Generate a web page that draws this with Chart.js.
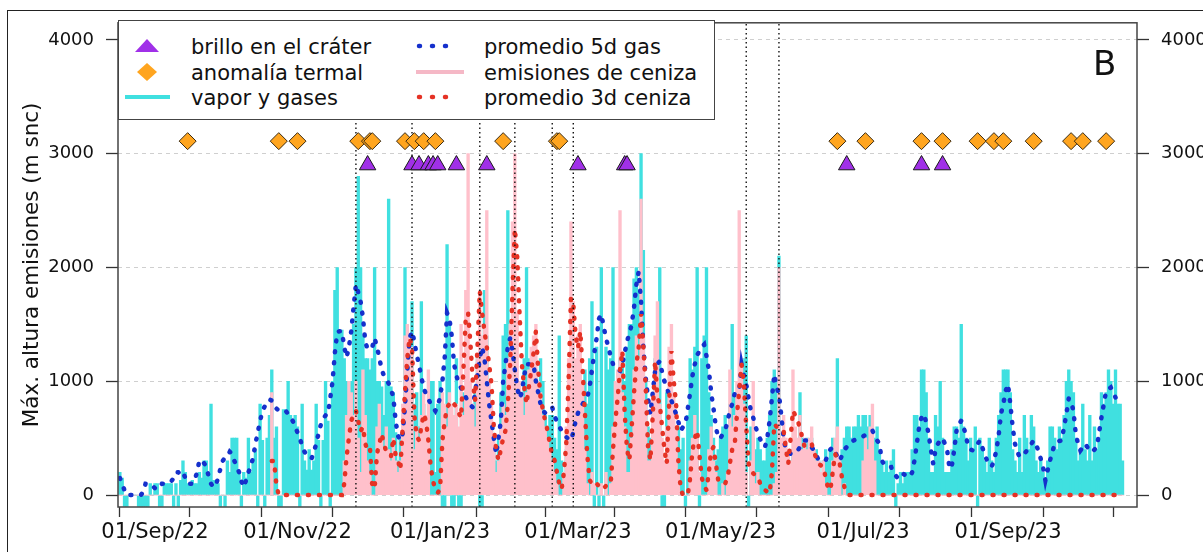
<!DOCTYPE html>
<html>
<head>
<meta charset="utf-8">
<script src="https://cdn.jsdelivr.net/npm/chart.js@4.4.0/dist/chart.umd.min.js"></script>
<style>
html,body{margin:0;padding:0;background:#fff;}
#wrap{position:relative;width:1203px;height:552px;overflow:hidden;background:#fff;}
#frame{position:absolute;left:7px;top:10px;width:1400px;height:800px;border-top:1.5px solid #222;border-left:1.5px solid #222;}
#c{position:absolute;left:0;top:0;}
#legend{position:absolute;left:118px;top:20px;width:597px;height:100px;background:#fff;border:1.5px solid #444;box-sizing:border-box;font-family:'DejaVu Sans',sans-serif;font-size:21px;color:#111;}
#legend .t{position:absolute;white-space:nowrap;line-height:24px;}
#legend svg{position:absolute;left:0;top:0;}
#panel{position:absolute;left:1093px;top:46px;font-family:'DejaVu Sans',sans-serif;font-size:34px;line-height:34px;color:#111;}
</style>
</head>
<body>
<div id="wrap">
  <div id="frame"></div>
  <canvas id="c" width="1203" height="552"></canvas>
  <div id="legend">
    <svg width="597" height="100">
      <polygon points="16,31 40,31 28,18" fill="#A030E8"/>
      <polygon points="18,51 28,42 38,51 28,60" fill="#FFA51F"/>
      <line x1="6" y1="76" x2="51" y2="76" stroke="#40E0E0" stroke-width="4"/>
      <line x1="300" y1="25" x2="330" y2="25" stroke="#1530CC" stroke-width="4.5" stroke-dasharray="1 12" stroke-linecap="round"/>
      <line x1="297" y1="51" x2="345" y2="51" stroke="#F5B8C6" stroke-width="4"/>
      <line x1="300" y1="76" x2="330" y2="76" stroke="#E53225" stroke-width="4.5" stroke-dasharray="1 12" stroke-linecap="round"/>
    </svg>
    <div class="t" style="left:72px;top:14px;">brillo en el cráter</div>
    <div class="t" style="left:72px;top:40px;">anomalía termal</div>
    <div class="t" style="left:72px;top:65px;">vapor y gases</div>
    <div class="t" style="left:365px;top:14px;">promedio 5d gas</div>
    <div class="t" style="left:365px;top:40px;">emisiones de ceniza</div>
    <div class="t" style="left:365px;top:65px;">promedio 3d ceniza</div>
  </div>
  <div id="panel">B</div>
</div>
<script>
// ---------------- DATA ----------------
const seriesStart = '2022-08-17'; // first day of the daily series

// daily max height of vapour & gas emissions (m above crater); -100 = no observation
const gasHeights = [
200,150,-100,-100,0,0,0,0,-100,-100,
-100,-100,-100,100,0,100,100,-100,-100,100,
100,100,100,-100,100,-100,130,300,200,100,
100,130,100,100,200,150,300,300,200,800,
130,130,100,-100,0,-100,300,200,500,500,
500,200,-100,200,150,500,200,300,400,-100,
800,480,-100,500,700,1100,500,600,-100,-100,
750,750,1000,700,650,700,600,-100,800,300,
220,400,220,300,800,480,-100,480,1000,650,
-100,1000,1800,2000,1450,1450,1200,1000,1000,1000,
1500,2000,2800,2000,1400,1200,1200,1100,1200,2000,
1000,1000,950,700,1000,2600,950,900,550,300,
500,500,2000,500,400,1700,800,900,600,1700,
800,700,600,1000,1000,200,800,1000,-100,-100,
2200,1500,-100,-100,1200,-100,-100,900,800,1000,
700,800,900,1200,-100,-100,1800,1400,900,600,
400,300,500,900,1400,1500,2500,1200,1000,800,
700,600,900,1200,2000,1200,900,1000,1100,800,
1200,1000,700,600,700,700,500,400,1400,300,
200,400,600,500,700,600,700,900,1000,1100,
800,1200,1700,-100,1300,-100,2000,-100,1300,1100,
1200,2000,900,800,1200,1200,1000,1300,1500,1500,
1900,2000,1800,3000,2150,1000,600,500,800,1200,
1300,2000,-100,-100,900,900,700,600,500,600,
400,500,-100,700,1200,1100,1300,2000,-100,1200,
1400,2000,900,700,500,300,400,500,600,700,
600,800,1500,900,800,1000,1100,1200,1400,-100,
600,500,400,500,400,300,300,500,700,1000,
1100,1000,2100,400,300,300,400,300,400,500,
400,900,500,400,500,400,500,300,400,300,
200,300,400,300,400,500,400,1200,300,400,
500,600,600,500,600,600,700,600,700,700,
600,700,600,500,600,400,300,200,300,200,
300,400,-100,100,200,100,200,200,200,400,
700,700,600,1100,1100,900,500,200,200,700,
600,1000,500,200,200,200,400,600,600,500,
1500,600,500,300,500,400,600,-100,500,400,
300,200,500,300,200,500,700,900,1100,1100,
1100,900,400,300,200,500,200,700,500,400,
700,600,300,200,300,200,100,300,600,600,
500,400,600,500,700,1000,1100,1000,900,500,
300,400,800,400,300,700,300,600,400,500,
900,800,900,1100,1000,800,1100,800,800,300
];

// daily max height of ash emissions (m above crater)
const ashHeights = [
0,0,0,0,0,0,0,0,0,0,
0,0,0,0,0,0,0,0,0,0,
0,0,0,0,0,0,0,0,0,0,
0,0,0,0,0,0,0,0,0,0,
0,0,0,0,0,0,0,0,0,0,
0,0,0,0,0,0,0,0,0,0,
0,0,0,0,0,900,0,0,0,0,
0,0,0,0,0,0,0,0,0,0,
0,0,0,0,0,0,0,0,0,0,
0,0,0,0,0,0,300,700,1000,900,
700,1000,500,200,1100,700,300,200,0,0,
600,800,500,400,600,400,300,500,300,200,
300,800,1400,1500,1300,1300,400,600,500,700,
900,700,1100,0,0,0,0,0,900,800,
600,900,800,700,800,600,1500,700,1800,3000,
1000,800,600,1200,1800,1400,1500,2500,1000,800,
500,200,300,600,800,700,1200,1500,2400,3000,
1600,1000,900,700,900,1100,1300,1400,1500,1000,
900,700,600,500,400,300,200,100,0,0,
200,600,1200,2400,1700,1200,1400,1500,1000,400,
100,0,200,100,0,0,100,0,200,0,
100,600,1000,1100,2500,900,600,200,200,500,
1100,1400,1200,2600,1400,800,300,300,900,1400,
1700,800,500,300,600,1300,1500,900,600,200,
0,0,0,0,300,500,700,500,200,0,
0,0,400,600,300,200,0,0,100,0,
200,1100,600,700,1000,2500,1200,800,200,0,
300,1000,100,200,0,0,0,0,0,0,
100,200,2000,500,700,500,400,300,1100,600,
500,700,400,500,400,500,600,400,300,300,
200,300,100,0,0,300,500,600,300,0,
100,0,0,0,0,0,0,0,300,500,
400,600,800,300,0,0,0,0,0,0,
0,0,0,0,0,0,0,0,0,0,
0,0,0,0,0,0,0,0,0,0,
0,0,0,0,0,0,0,0,0,0,
0,0,0,0,0,0,0,0,0,0,
0,0,0,0,0,0,0,0,0,0,
0,0,0,0,0,0,0,0,0,0,
0,0,0,0,0,0,0,0,0,0,
0,0,0,0,0,0,0,0,0,0,
0,0,0,0,0,0,0,0,0,0,
0,0,0,0,0,0,0,0,0,0
];

// 5-day mean of gas heights
const gasAvg5d = [
150,100,40,0,0,0,0,0,0,0,
30,100,100,100,80,60,50,70,100,100,
110,120,120,150,200,200,180,200,150,100,
100,100,130,200,300,310,280,250,160,100,
70,80,150,230,300,330,340,380,360,300,
250,200,120,70,130,200,250,330,450,550,
650,740,780,820,840,830,800,760,740,740,
740,740,710,680,650,600,550,500,430,380,
350,330,320,380,450,540,620,670,700,710,
850,1000,1250,1430,1440,1440,1300,1210,1300,1440,
1650,1850,1780,1700,1560,1350,1280,1290,1300,1380,
1300,1210,1100,1050,1020,980,930,860,650,520,
480,540,780,1100,1380,1440,1350,1230,1150,1030,
950,880,845,800,770,740,780,860,1000,1210,
1600,1550,1400,1150,1050,980,940,900,860,820,
790,770,900,1050,1200,1300,1200,1000,800,650,
500,360,500,650,1000,1150,1300,1380,1266,1100,
946,850,900,1050,1150,1150,1150,1150,1000,900,
800,742,720,740,760,770,700,640,600,568,
540,510,490,480,550,650,720,770,800,830,
856,950,1100,1250,1380,1550,1590,1480,1380,1300,
1220,1150,1120,1100,1092,1150,1250,1350,1420,1500,
1650,1850,1965,1700,1300,1030,850,712,900,1090,
1150,1177,1080,1000,940,887,830,770,712,640,
567,600,625,760,900,1050,1150,1230,1265,1300,
1323,1220,1100,900,760,600,500,500,540,567,
650,741,800,887,900,916,1148,1050,974,850,
741,680,600,538,490,450,422,500,654,850,
1061,950,887,700,500,392,370,363,370,392,
392,420,450,480,480,450,420,392,350,305,
300,300,305,350,400,420,380,335,300,350,
400,422,450,470,480,490,500,509,515,530,
540,553,567,520,480,450,305,270,247,247,
247,190,170,145,170,190,175,165,160,200,
305,450,600,683,712,640,540,400,276,400,
450,480,500,450,392,230,260,400,567,620,
654,600,520,422,400,392,420,450,480,420,
360,305,270,250,300,392,520,712,800,916,
974,800,600,450,380,334,350,363,390,422,
450,480,440,392,320,247,130,220,305,380,
450,465,475,480,600,712,850,820,741,538,
450,392,420,450,420,390,378,400,422,550,
683,800,916,930,945,900,858,null,null,null
];

// 3-day mean of ash heights
const ashAvg3d = [
null,null,null,null,null,null,null,null,null,null,
null,null,null,null,null,null,null,null,null,null,
null,null,null,null,null,null,null,null,null,null,
null,null,null,null,null,null,null,null,null,null,
null,null,null,null,null,null,null,null,null,null,
null,null,null,null,null,null,null,null,null,null,
null,null,null,null,null,300,300,80,0,0,
0,0,0,0,0,0,0,0,0,0,
0,0,0,0,0,0,0,0,0,0,
0,0,0,0,0,0,100,335,500,655,
700,743,650,560,600,450,400,420,73,58,
364,450,540,450,380,364,340,500,350,306,
220,600,900,1210,1385,1300,700,520,480,600,
714,650,480,250,120,50,20,50,480,650,
772,800,830,800,772,720,680,1100,1555,1600,
1330,1000,830,1300,1790,1600,1440,1300,1150,976,
600,400,305,400,500,568,800,1150,1800,2340,
2100,1600,1150,950,800,950,1092,1250,1440,1100,
856,750,650,568,450,350,305,200,100,50,
200,455,1000,1730,1680,1400,1290,1440,1100,716,
350,130,100,120,100,80,50,60,80,100,
100,400,650,856,1100,1266,716,400,305,600,
900,1150,1300,1590,1300,946,420,305,700,1177,
856,800,600,400,276,800,1265,1000,800,276,
44,0,0,0,150,392,500,567,350,150,
80,44,200,392,422,276,131,100,100,102,
150,276,400,422,700,916,1148,974,600,276,
220,190,175,160,100,60,44,30,15,200,
625,600,600,580,567,400,276,500,741,700,
650,596,500,422,430,440,450,380,320,276,
260,247,150,60,44,200,363,320,276,150,
73,20,0,0,0,0,0,0,0,0,
0,0,0,0,0,0,0,0,0,0,
0,0,0,0,0,0,0,0,0,0,
0,0,0,0,0,0,0,0,0,0,
0,0,0,0,0,0,0,0,0,0,
0,0,0,0,0,0,0,0,0,0,
0,0,0,0,0,0,0,0,0,0,
0,0,0,0,0,0,0,0,0,0,
0,0,0,0,0,0,0,0,0,0,
0,0,0,0,0,0,0,0,0,0,
0,0,0,0,0,0,0,0,0,0,
0,0,0,0,0,0,0,null,null,null
];

// dates of crater glow (triangles) and thermal anomalies (diamonds)
const brilloDates = ['2022-12-01','2022-12-20','2022-12-23','2022-12-27','2022-12-29','2022-12-31',
  '2023-01-08','2023-01-21','2023-03-01','2023-03-21','2023-03-22','2023-06-24','2023-07-26','2023-08-04'];
const anomaliaDates = ['2022-09-15','2022-10-24','2022-11-01','2022-11-27','2022-12-02','2022-12-03',
  '2022-12-17','2022-12-21','2022-12-25','2022-12-30','2023-01-28','2023-02-20','2023-02-21',
  '2023-06-20','2023-07-02','2023-07-26','2023-08-04','2023-08-19','2023-08-26','2023-08-30',
  '2023-09-12','2023-09-28','2023-10-03','2023-10-13'];
const brilloLevel = 2900;
const anomaliaLevel = 3110;

// dates marked with vertical dotted lines
const eventDates = ['2022-11-26','2022-12-20','2023-01-18','2023-02-02','2023-02-18','2023-02-27','2023-05-12','2023-05-26'];

// axis ticks
const monthTickDates = ['2022-09-01','2022-10-01','2022-11-01','2022-12-01','2023-01-01','2023-02-01','2023-03-01',
  '2023-04-01','2023-05-01','2023-06-01','2023-07-01','2023-08-01','2023-09-01','2023-10-01'];
const monthTickLabels = ['01/Sep/22','','01/Nov/22','','01/Jan/23','','01/Mar/23','','01/May/23','','01/Jul/23','','01/Sep/23',''];
const yTickValues = [0,1000,2000,3000,4000];
const yTitle = 'Máx. altura emisiones (m snc)';

// ---------------- CHART ----------------
const ORIGIN = Date.UTC(2022, 8, 1);
function dayNum(s){ const p = s.split('-').map(Number); return (Date.UTC(p[0], p[1]-1, p[2]) - ORIGIN) / 86400000; }
const start = dayNum(seriesStart);
const toPts = arr => arr.map((v, i) => ({x: start + i, y: v}));

const Y_MIN = -105, Y_MAX = 4150;
const X_MIN = -15.8, X_MAX = 420.2;

Chart.defaults.font.family = "'DejaVu Sans', sans-serif";
Chart.defaults.color = '#111';

const boxPlugin = {
  id: 'plotBox',
  afterDatasetsDraw(chart){
    const {ctx, chartArea: a} = chart;
    ctx.save();
    ctx.strokeStyle = '#444';
    ctx.lineWidth = 1.5;
    ctx.strokeRect(a.left, a.top, a.right - a.left, a.bottom - a.top);
    ctx.restore();
  }
};

const dotted = (color, order) => ({
  borderColor: color, borderWidth: 4.5, borderDash: [1, 10], borderCapStyle: 'round',
  pointRadius: 0, fill: false, tension: 0, order: order
});

const datasets = [
  {type: 'scatter', label: 'brillo en el cráter',
   data: brilloDates.map(d => ({x: dayNum(d), y: brilloLevel})),
   pointStyle: 'triangle', pointRadius: 9.5, backgroundColor: '#A030E8', borderColor: '#1a1a1a', borderWidth: 1, order: 1},
  {type: 'scatter', label: 'anomalía termal',
   data: anomaliaDates.map(d => ({x: dayNum(d), y: anomaliaLevel})),
   pointStyle: 'rectRot', pointRadius: 8.5, backgroundColor: '#FFA51F', borderColor: '#3b2a10', borderWidth: 1, order: 2},
  Object.assign({type: 'line', label: 'promedio 3d ceniza', data: toPts(ashAvg3d)}, dotted('#E53225', 4)),
  Object.assign({type: 'line', label: 'promedio 5d gas', data: toPts(gasAvg5d)}, dotted('#1530CC', 5)),
  ...eventDates.map(d => ({type: 'line', label: 'evento', data: [{x: dayNum(d), y: Y_MIN}, {x: dayNum(d), y: Y_MAX}],
    borderColor: '#111', borderWidth: 1.4, borderDash: [1.5, 3], pointRadius: 0, order: 3})),
  {type: 'bar', label: 'emisiones de ceniza', data: toPts(ashHeights), backgroundColor: '#FFC0CB',
   grouped: false, barThickness: 2.7, borderWidth: 0, order: 8},
  {type: 'bar', label: 'vapor y gases', data: toPts(gasHeights), backgroundColor: '#40E0E0',
   grouped: false, barThickness: 2.7, borderWidth: 0, order: 9}
];

const yTicksCfg = {padding: 12, font: {size: 18}, color: '#111', callback: v => String(v)};

new Chart(document.getElementById('c'), {
  type: 'bar',
  data: {datasets},
  plugins: [boxPlugin],
  options: {
    responsive: false, animation: false, devicePixelRatio: 1,
    layout: {padding: {top: 20, left: 0, right: 0, bottom: 0}},
    plugins: {legend: {display: false}, tooltip: {enabled: false}},
    scales: {
      x: {type: 'linear', min: X_MIN, max: X_MAX, offset: false,
        afterBuildTicks: s => { s.ticks = monthTickDates.map(d => ({value: dayNum(d)})); },
        ticks: {autoSkip: false, maxRotation: 0, minRotation: 0, padding: 3, font: {size: 21}, color: '#111',
          callback: (v, i) => monthTickLabels[i]},
        grid: {drawOnChartArea: false, tickLength: 10, tickColor: '#333', tickWidth: 1.3},
        border: {display: false},
        afterFit: s => { s.height = 45; }
      },
      y: {type: 'linear', position: 'left', min: Y_MIN, max: Y_MAX,
        afterBuildTicks: s => { s.ticks = yTickValues.map(v => ({value: v})); },
        ticks: yTicksCfg,
        grid: {color: '#cfcfcf', lineWidth: 1, tickColor: '#333', tickLength: 12, tickWidth: 1.3},
        border: {display: false, dash: [4, 4]},
        title: {display: true, text: yTitle, font: {size: 21.5}, color: '#111', padding: {top: 20, bottom: 0}},
        afterFit: s => { s.width = 118; }
      },
      y2: {type: 'linear', position: 'right', min: Y_MIN, max: Y_MAX,
        afterBuildTicks: s => { s.ticks = yTickValues.map(v => ({value: v})); },
        ticks: yTicksCfg,
        grid: {drawOnChartArea: false, tickColor: '#333', tickLength: 12, tickWidth: 1.3},
        border: {display: false},
        afterFit: s => { s.width = 66; }
      }
    }
  }
});
</script>
</body>
</html>
